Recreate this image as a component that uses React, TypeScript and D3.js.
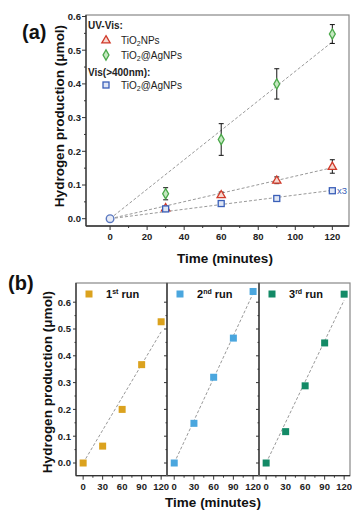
import React from 'react';
import * as d3 from 'd3';

// panel (a) data
const timesA = [0, 30, 60, 90, 120];
const tio2Nps = [0, 0.032, 0.071, 0.114, 0.155];
const tio2NpsErr = [0, 0.005, 0.008, 0.01, 0.02];
const tio2AgUv = [0, 0.074, 0.235, 0.4, 0.548];
const tio2AgUvErr = [0, 0.018, 0.047, 0.045, 0.028];
const tio2AgVis = [0, 0.029, 0.045, 0.06, 0.083];
const tio2AgVisErr = [0, 0.004, 0.003, 0.003, 0.003];
const ticksA_x = [0, 20, 40, 60, 80, 100, 120];
const ticksA_y = [0, 0.1, 0.2, 0.3, 0.4, 0.5, 0.6];

// panel (b) data
const timesB = [0, 30, 60, 90, 120];
const runNames = ['1', '2', '3'];
const runSup = ['st', 'nd', 'rd'];
const run1 = [0, 0.063, 0.2, 0.367, 0.527];
const run2 = [0, 0.148, 0.32, 0.466, 0.64];
const run3 = [0, 0.117, 0.288, 0.448, 0.63];
const runColors = ['#dba21e', '#4aa6de', '#138a66'];
const ticksB_x = [0, 30, 60, 90, 120];
const ticksB_y = [0, 0.1, 0.2, 0.3, 0.4, 0.5, 0.6];

const font = 'Liberation Sans, Arial, sans-serif';
const axisCol = '#333';
const frameCol = '#888';

// slope of least-squares line through origin
const fitSlope = (xs: number[], ys: number[]) =>
  d3.sum(xs, (x, i) => x * ys[i]) / d3.sum(xs, x => x * x);

const PanelA = () => {
  const left = 86, right = 349, top = 15, bottom = 226;
  const x = d3.scaleLinear().domain([-13, 129]).range([left, right]);
  const y = d3.scaleLinear().domain([0, 0.6]).range([218.7, 16.5]);
  const series = [
    { v: tio2Nps, e: tio2NpsErr, col: '#d03a2a', shape: 'tri' },
    { v: tio2AgVis, e: tio2AgVisErr, col: '#3a5fb8', shape: 'sq' },
    { v: tio2AgUv, e: tio2AgUvErr, col: '#4aa84a', shape: 'dia' },
  ];
  const marker = (shape: string, cx: number, cy: number, col: string, key?: string) => {
    if (shape === 'tri') {
      const p = d3.symbol(d3.symbolTriangle, 30)();
      return <path key={key} d={p!} transform={`translate(${cx},${cy + 0.5})`} fill="#f6d8d0" stroke={col} strokeWidth={1.3} />;
    }
    if (shape === 'sq') {
      return <rect key={key} x={cx - 3} y={cy - 3} width={6} height={6} fill="#dfe6f5" stroke={col} strokeWidth={1.3} />;
    }
    const p = d3.symbol(d3.symbolDiamond, 30)();
    return <path key={key} d={p!} transform={`translate(${cx},${cy})`} fill="#c5e8c0" stroke={col} strokeWidth={1.3} />;
  };
  const minorX = d3.range(10, 130, 20);
  const minorY = d3.range(0.05, 0.6, 0.1);
  return (
    <g fontFamily={font}>
      <rect x={left} y={top} width={right - left} height={bottom - top} fill="none" stroke={frameCol} strokeWidth={1.2} />
      <line x1={left} x2={right} y1={bottom} y2={bottom} stroke={axisCol} strokeWidth={1.3} />
      <line x1={left} x2={left} y1={top} y2={bottom} stroke={axisCol} strokeWidth={1.3} />
      {ticksA_x.map(t => (
        <g key={t}>
          <line x1={x(t)} x2={x(t)} y1={bottom} y2={bottom + 4} stroke={axisCol} />
          <text x={x(t)} y={bottom + 14} fontSize={9.5} fontWeight="bold" textAnchor="middle" fill="#222">{t}</text>
        </g>
      ))}
      {minorX.map(t => <line key={t} x1={x(t)} x2={x(t)} y1={bottom} y2={bottom + 2} stroke={axisCol} />)}
      {ticksA_y.map(t => (
        <g key={t}>
          <line x1={left - 4} x2={left} y1={y(t)} y2={y(t)} stroke={axisCol} />
          <text x={left - 5} y={y(t) + 3.3} fontSize={9.5} fontWeight="bold" textAnchor="end" fill="#222">{d3.format('.1f')(t)}</text>
        </g>
      ))}
      {minorY.map(t => <line key={t} x1={left - 2} x2={left} y1={y(t)} y2={y(t)} stroke={axisCol} />)}
      {series.map((s, si) => {
        const k = fitSlope(timesA, s.v);
        return <line key={si} x1={x(0)} y1={y(0)} x2={x(120)} y2={y(k * 120)} stroke="#999" strokeWidth={1} strokeDasharray="3,2" />;
      })}
      {series.map((s, si) => (
        <g key={si}>
          {timesA.map((t, i) => s.e[i] > 0 ? (
            <g key={i} stroke="#111" strokeWidth={1}>
              <line x1={x(t)} x2={x(t)} y1={y(s.v[i] - s.e[i])} y2={y(s.v[i] + s.e[i])} />
              <line x1={x(t) - 2.5} x2={x(t) + 2.5} y1={y(s.v[i] - s.e[i])} y2={y(s.v[i] - s.e[i])} />
              <line x1={x(t) - 2.5} x2={x(t) + 2.5} y1={y(s.v[i] + s.e[i])} y2={y(s.v[i] + s.e[i])} />
            </g>
          ) : null)}
          {timesA.map((t, i) => i > 0 ? marker(s.shape, x(t), y(s.v[i]), s.col, 'm' + i) : null)}
        </g>
      ))}
      {/* all three series start at the origin; the overlap reads as a circle */}
      <circle cx={x(0)} cy={y(0)} r={3.8} fill="#e8ecf6" stroke="#5a78c0" strokeWidth={1.4} />
      <text x={337} y={193.5} fontSize={9.5} fill="#3a5fb8">x3</text>
      {/* legend */}
      <text x={88} y={29} fontSize={10} fontWeight="bold" fill="#222">UV-Vis:</text>
      {marker('tri', 106, 40, '#d03a2a')}
      <text x={121} y={43.5} fontSize={10} fill="#222">TiO<tspan fontSize={7} dy={2}>2</tspan><tspan dy={-2}>NPs</tspan></text>
      {marker('dia', 106, 55, '#4aa84a')}
      <text x={121} y={58.5} fontSize={10} fill="#222">TiO<tspan fontSize={7} dy={2}>2</tspan><tspan dy={-2}>@AgNPs</tspan></text>
      <text x={88} y={75.5} fontSize={10} fontWeight="bold" fill="#222">Vis(&gt;400nm):</text>
      {marker('sq', 106, 85, '#3a5fb8')}
      <text x={121} y={88.5} fontSize={10} fill="#222">TiO<tspan fontSize={7} dy={2}>2</tspan><tspan dy={-2}>@AgNPs</tspan></text>
      <text x={22} y={39} fontSize={20} fontWeight="bold" fill="#111">(a)</text>
      <text transform={`translate(64,116) rotate(-90)`} fontSize={13.5} fontWeight="bold" textAnchor="middle" fill="#111">Hydrogen production (μmol)</text>
      <text x={225} y={263} fontSize={13.5} fontWeight="bold" textAnchor="middle" fill="#111">Time (minutes)</text>
    </g>
  );
};

const PanelB = () => {
  const top = 283, bottom = 475.7;
  const edges = [76, 167, 259, 350];
  const runs = [run1, run2, run3];
  const y = d3.scaleLinear().domain([0, 0.6]).range([463, 302.2]);
  const minorY = d3.range(0.05, 0.65, 0.1);
  return (
    <g fontFamily={font}>
      {runs.map((r, ri) => {
        const l = edges[ri], rr = edges[ri + 1];
        const x = d3.scaleLinear().domain([-11, 129]).range([l, rr]);
        const k = fitSlope(timesB, r);
        return (
          <g key={ri}>
            <rect x={l} y={top} width={rr - l} height={bottom - top} fill="none" stroke={frameCol} strokeWidth={1.2} />
            <line x1={l} x2={rr} y1={bottom} y2={bottom} stroke={axisCol} strokeWidth={1.3} />
            <line x1={l} x2={l} y1={top} y2={bottom} stroke={ri === 0 ? axisCol : '#555'} strokeWidth={ri === 0 ? 1.3 : 1.8} />
            {ticksB_x.map(t => (
              <g key={t}>
                <line x1={x(t)} x2={x(t)} y1={bottom} y2={bottom + 4} stroke={axisCol} />
                <text x={x(t)} y={bottom + 14} fontSize={9.5} fontWeight="bold" textAnchor="middle" fill="#222">{t}</text>
              </g>
            ))}
            {d3.range(15, 120, 30).map(t => <line key={t} x1={x(t)} x2={x(t)} y1={bottom} y2={bottom + 2} stroke={axisCol} />)}
            {ticksB_y.map(t => (
              <g key={t}>
                <line x1={l - 3} x2={l} y1={y(t)} y2={y(t)} stroke={axisCol} />
                {ri === 0 && (
                  <text x={l - 5} y={y(t) + 3.3} fontSize={9.5} fontWeight="bold" textAnchor="end" fill="#222">{d3.format('.1f')(t)}</text>
                )}
              </g>
            ))}
            {minorY.map(t => <line key={t} x1={l - 1.5} x2={l} y1={y(t)} y2={y(t)} stroke={axisCol} />)}
            <line x1={x(0)} y1={y(0)} x2={x(120)} y2={y(k * 120)} stroke="#999" strokeWidth={1} strokeDasharray="3,2" />
            {timesB.map((t, i) => (
              <rect key={i} x={x(t) - 3.5} y={y(r[i]) - 3.5} width={7} height={7} fill={runColors[ri]} />
            ))}
            <rect x={l + 9.5} y={290.5} width={7} height={7} fill={runColors[ri]} />
            <text x={l + 30} y={298} fontSize={11} fontWeight="bold" fill="#111">
              {runNames[ri]}<tspan fontSize={7} dy={-4}>{runSup[ri]}</tspan><tspan dy={4}> run</tspan>
            </text>
          </g>
        );
      })}
      <text x={8} y={290} fontSize={20} fontWeight="bold" fill="#111">(b)</text>
      <text transform={`translate(52,382) rotate(-90)`} fontSize={13.5} fontWeight="bold" textAnchor="middle" fill="#111">Hydrogen production (μmol)</text>
      <text x={213} y={507} fontSize={13.5} fontWeight="bold" textAnchor="middle" fill="#111">Time (minutes)</text>
    </g>
  );
};

export default function App() {
  return (
    <svg width={352} height={512} style={{ position: 'absolute', left: 0, top: 0, background: '#fff' }}>
      <PanelA />
      <PanelB />
    </svg>
  );
}
